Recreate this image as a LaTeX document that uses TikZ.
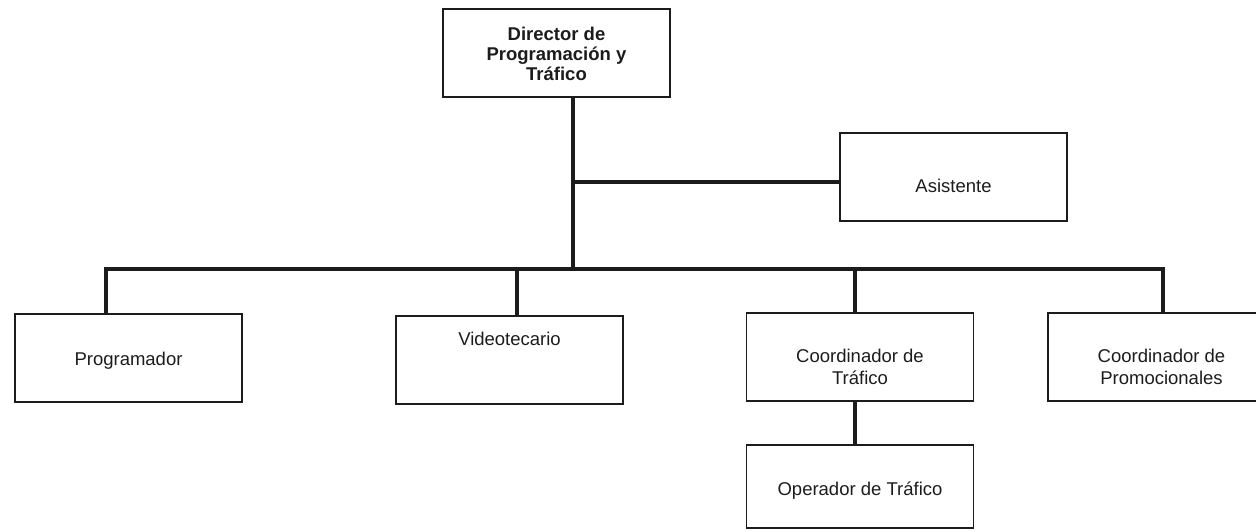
\documentclass[tikz,border=0pt]{standalone}
\usepackage{fontspec}
\setmainfont{Liberation Sans}
\definecolor{ink}{HTML}{1C1C1C}
\begin{document}
\begin{tikzpicture}[x=1pt,y=-1pt,
  box/.style={draw=ink, line width=1.8pt, minimum width=227pt, minimum height=88pt, inner sep=0pt},
  lbl/.style={font=\fontsize{18.5}{22}\selectfont, text=ink, align=center, inner sep=0pt},
  lblbold/.style={font=\fontsize{18.5}{20}\selectfont\bfseries, text=ink, align=center, inner sep=0pt},
  conn/.style={draw=ink, line width=3.2pt, line join=miter}]
  \path[use as bounding box, clip] (0,0) rectangle (1256,530);

  % boxes
  \node[box] (dir)    at (556.5,53)  {};
  \node[box] (asis)   at (953.5,177) {};
  \node[box] (prog)   at (128.5,358) {};
  \node[box] (video)  at (509.5,360) {};
  \node[box] (coordT) at (860,357)   {};
  \node[box] (promo)  at (1161.5,357) {};
  \node[box, minimum height=83pt] (oper) at (860,486.5) {};

  % box texts
  \node[lblbold] (dir-t) at (556.5,53.5) {Director de\\Programación y\\Tráfico};
  \node[lbl, anchor=base] (asis-t) at (953.5,192) {Asistente};
  \node[lbl, anchor=base] (prog-t) at (128.5,365) {Programador};
  \node[lbl, anchor=base] (video-t) at (509.5,345) {Videotecario};
  \node[lbl] (coordT-t) at (860,367) {Coordinador de\\Tráfico};
  \node[lbl] (promo-t) at (1161.5,367) {Coordinador de\\Promocionales};
  \node[lbl, anchor=base] (oper-t) at (860,495) {Operador de Tráfico};

  % junctions of the connector tree
  \coordinate (jA) at (573,182);
  \coordinate (jB) at (573,269);
  \coordinate (bL) at (106,269);
  \coordinate (bV) at (517,269);
  \coordinate (bT) at (855,269);
  \coordinate (bR) at (1163,269);

  % connectors
  \draw[conn] (dir.south -| jB) -- (jB);
  \draw[conn] (jA) -- (asis.west |- jA);
  \draw[conn] (prog.north -| bL) -- (bL) -- (bR) -- (promo.north -| bR);
  \draw[conn] (bV) -- (video.north -| bV);
  \draw[conn] (bT) -- (coordT.north -| bT);
  \draw[conn] (coordT.south -| bT) -- (oper.north -| bT);
\end{tikzpicture}
\end{document}
